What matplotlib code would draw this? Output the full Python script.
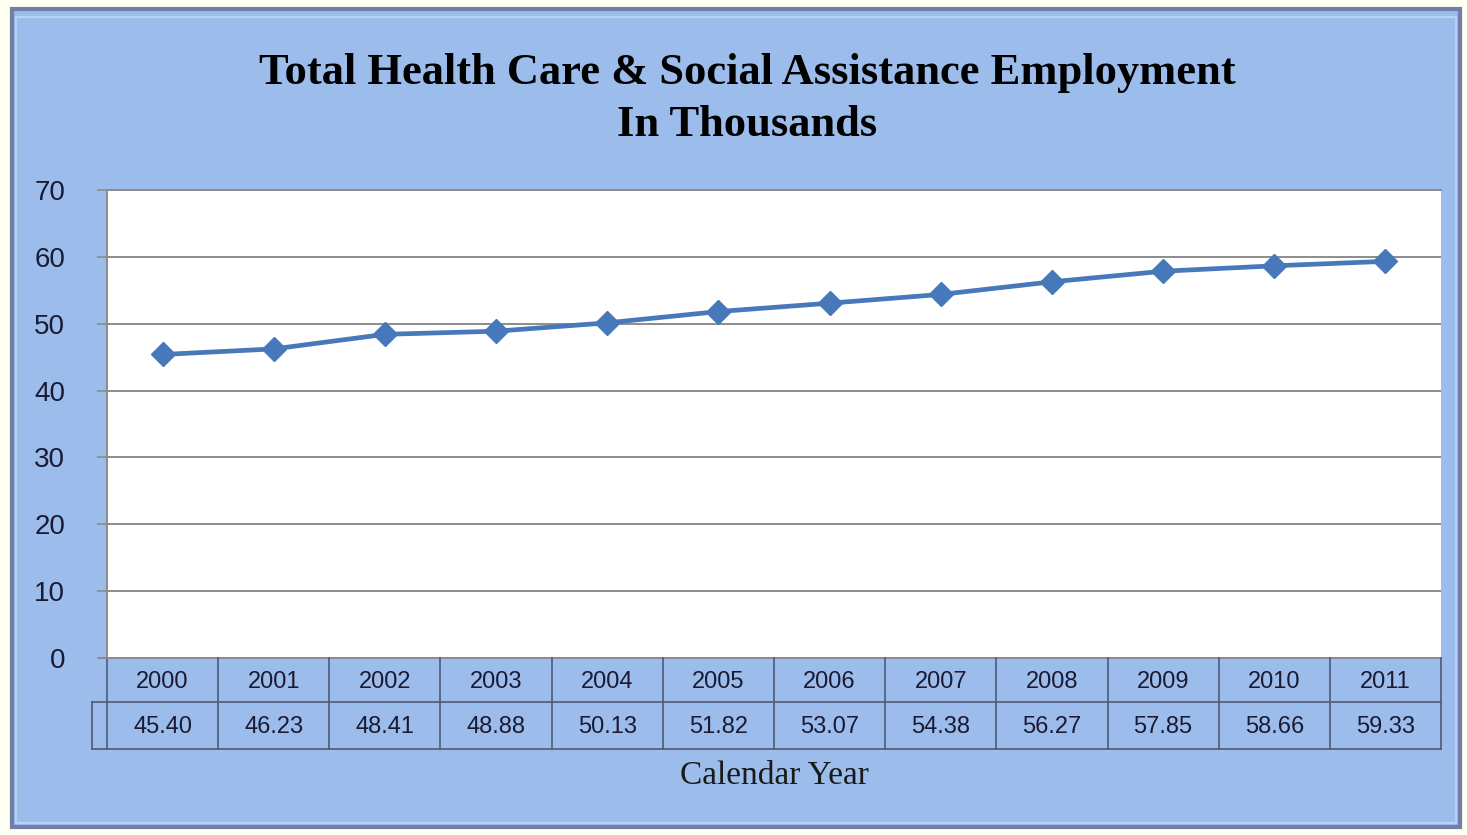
import matplotlib.pyplot as plt
from matplotlib.patches import Rectangle
from matplotlib.transforms import blended_transform_factory
import numpy as np

years = ['2000', '2001', '2002', '2003', '2004', '2005', '2006', '2007', '2008', '2009', '2010', '2011']
employment = [45.40, 46.23, 48.41, 48.88, 50.13, 51.82, 53.07, 54.38, 56.27, 57.85, 58.66, 59.33]
y_ticks = [0, 10, 20, 30, 40, 50, 60, 70]

W, H = 1467, 835
fig = plt.figure(figsize=(W / 100, H / 100), dpi=100, facecolor='#FFFFF2')

# blue chart panel with a simple bevel
fig.patches.append(Rectangle((12 / W, 8 / H), 1448 / W, 818 / H, transform=fig.transFigure,
                             facecolor='#9CBDEB', edgecolor='#6F7FA8', linewidth=3, zorder=-2))
fig.patches.append(Rectangle((16 / W, 12 / H), 1440 / W, 806 / H, transform=fig.transFigure,
                             facecolor='none', edgecolor='#B8D2F5', linewidth=1.5, zorder=-1))

ax = fig.add_axes([107 / W, (H - 658) / H, (1441 - 107) / W, (658 - 190) / H])
ax.set_facecolor('white')
x = np.arange(len(years))
ax.plot(x, employment, color='#4778B9', linewidth=3.4, marker='D', markersize=12, zorder=3)
ax.set_xlim(-0.5, len(years) - 0.5)
ax.set_ylim(0, 70)
ax.set_yticks(y_ticks)
ax.set_xticks([])
ax.grid(axis='y', color='#8C8C8C', linewidth=1.4)
ax.set_axisbelow(True)
for s in ['right', 'bottom']:
    ax.spines[s].set_visible(False)
ax.spines['left'].set_color('#8C8C8C')
ax.spines['top'].set_color('#8C8C8C')
ax.spines['left'].set_linewidth(1.4)
ax.spines['top'].set_linewidth(1.4)
ax.tick_params(axis='y', length=7, width=1.2, color='#8C8C8C', pad=23,
               labelsize=20, labelcolor='#1A1A33')
for lab in ax.get_yticklabels():
    lab.set_family(['Liberation Sans Narrow', 'Liberation Sans'])

# data table below the axis
h_px = 658 - 190
r1 = 44 / h_px
r2 = 91 / h_px
left_ext = -0.5 - 15 / (1441 - 107) * len(years)
lc = '#4F5A75'
kw = dict(color=lc, linewidth=1.2, clip_on=False)
ax.plot([-0.5, 11.5], [0, 0], color='#8C8C8C', linewidth=1.4, clip_on=False)
ax.plot([-0.5 - 7 / 111.2, -0.5], [0, 0], color='#8C8C8C', linewidth=1.4, clip_on=False)
tr = blended_transform_factory(ax.transData, ax.transAxes)
ax.plot([left_ext, 11.5], [-r1, -r1], transform=tr, **kw)
ax.plot([left_ext, 11.5], [-r2, -r2], transform=tr, **kw)
ax.plot([left_ext, left_ext], [-r1, -r2], transform=tr, **kw)
for i in range(len(years) + 1):
    ax.plot([i - 0.5, i - 0.5], [0, -r2], transform=tr, **kw)
for i, (yr, v) in enumerate(zip(years, employment)):
    ax.text(i, -r1 / 2 - 0.004, yr, transform=tr, ha='center', va='center', fontsize=17,
            color='#1A1A33', family=['Liberation Sans Narrow', 'Liberation Sans'])
    ax.text(i, -(r1 + r2) / 2 - 0.004, f'{v:.2f}', transform=tr, ha='center', va='center',
            fontsize=17, color='#1A1A33', family=['Liberation Sans Narrow', 'Liberation Sans'])

fig.text(774 / W, 1 - 776 / H, 'Calendar Year', ha='center', va='center', fontsize=24,
         family='Liberation Serif', color='#1A1A1A')
fig.text(747 / W, 1 - 99 / H, 'Total Health Care & Social Assistance Employment\nIn Thousands',
         ha='center', va='center', fontsize=32, fontweight='bold', family='Liberation Serif',
         linespacing=1.36, color='black')

fig.savefig('out.png', dpi=100, facecolor=fig.get_facecolor())
